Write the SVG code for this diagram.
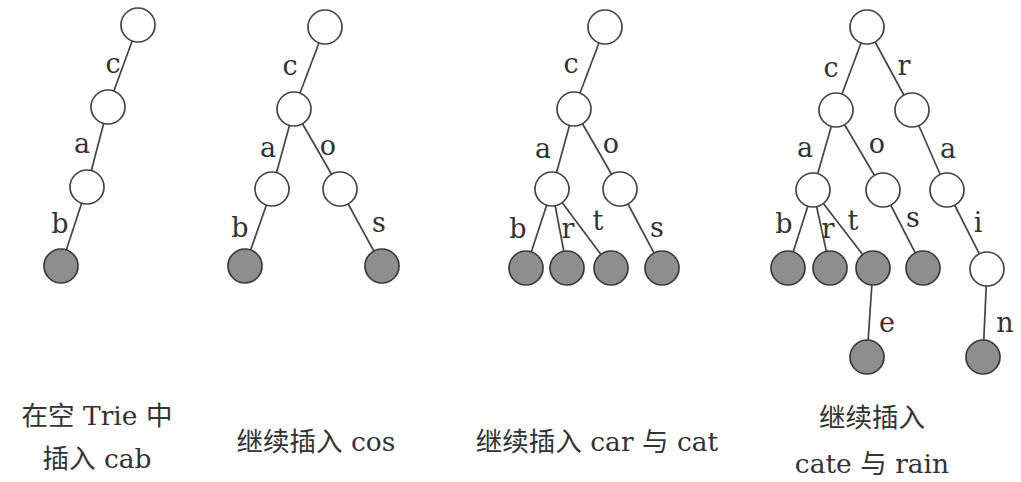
<svg xmlns="http://www.w3.org/2000/svg" width="1021" height="482" viewBox="0 0 1021 482">
<style>
.n{fill:#fff;stroke:#444;stroke-width:1.7}
.l{fill:#8e8e8e;stroke:#3a3a3a;stroke-width:1.7}
.e{stroke:#444;stroke-width:1.7;fill:none}
.t{font-family:"DejaVu Serif","Liberation Serif",serif;font-size:27px;fill:#333;text-anchor:middle}
.cap{font-family:"DejaVu Serif","Noto Sans CJK SC",serif;font-size:26.5px;fill:#333;text-anchor:middle}
</style>
<rect width="1021" height="482" fill="#fff"/>
<g id="connectors">
<line class="e" x1="138" y1="25" x2="108" y2="107"/>
<line class="e" x1="108" y1="107" x2="87" y2="187"/>
<line class="e" x1="87" y1="187" x2="61" y2="266"/>
<line class="e" x1="325" y1="27" x2="294" y2="109"/>
<line class="e" x1="294" y1="109" x2="272" y2="189"/>
<line class="e" x1="294" y1="109" x2="340" y2="189"/>
<line class="e" x1="272" y1="189" x2="245" y2="266"/>
<line class="e" x1="340" y1="189" x2="382" y2="266"/>
<line class="e" x1="605" y1="27" x2="574" y2="109"/>
<line class="e" x1="574" y1="109" x2="552" y2="189"/>
<line class="e" x1="574" y1="109" x2="620" y2="189"/>
<line class="e" x1="552" y1="189" x2="526" y2="268"/>
<line class="e" x1="552" y1="189" x2="567" y2="268"/>
<line class="e" x1="552" y1="189" x2="611" y2="268"/>
<line class="e" x1="620" y1="189" x2="662" y2="268"/>
<line class="e" x1="867" y1="27" x2="836" y2="110"/>
<line class="e" x1="867" y1="27" x2="912" y2="110"/>
<line class="e" x1="836" y1="110" x2="813" y2="190"/>
<line class="e" x1="836" y1="110" x2="883" y2="190"/>
<line class="e" x1="912" y1="110" x2="947" y2="190"/>
<line class="e" x1="813" y1="190" x2="788" y2="268"/>
<line class="e" x1="813" y1="190" x2="830" y2="268"/>
<line class="e" x1="813" y1="190" x2="873" y2="268"/>
<line class="e" x1="883" y1="190" x2="923" y2="268"/>
<line class="e" x1="947" y1="190" x2="987" y2="269"/>
<line class="e" x1="873" y1="268" x2="867" y2="357"/>
<line class="e" x1="987" y1="269" x2="983" y2="357"/>
</g>
<g id="labels">
<text class="t" x="113" y="73">c</text>
<text class="t" x="82" y="153">a</text>
<text class="t" x="60" y="233">b</text>
<text class="t" x="290" y="75">c</text>
<text class="t" x="268" y="157">a</text>
<text class="t" x="328" y="155">o</text>
<text class="t" x="240" y="237">b</text>
<text class="t" x="379" y="232">s</text>
<text class="t" x="571" y="73">c</text>
<text class="t" x="543" y="158">a</text>
<text class="t" x="611" y="153">o</text>
<text class="t" x="518" y="238">b</text>
<text class="t" x="568" y="238">r</text>
<text class="t" x="598" y="230">t</text>
<text class="t" x="657" y="237">s</text>
<text class="t" x="831" y="77">c</text>
<text class="t" x="904" y="75">r</text>
<text class="t" x="805" y="157">a</text>
<text class="t" x="877" y="153">o</text>
<text class="t" x="948" y="158">a</text>
<text class="t" x="784" y="233">b</text>
<text class="t" x="828" y="238">r</text>
<text class="t" x="853" y="230">t</text>
<text class="t" x="913" y="227">s</text>
<text class="t" x="978" y="232">i</text>
<text class="t" x="887" y="332">e</text>
<text class="t" x="1005" y="332">n</text>
</g>
<g id="t1-root"><circle class="n" cx="138" cy="25" r="17"/></g>
<g id="t1-c"><circle class="n" cx="108" cy="107" r="17"/></g>
<g id="t1-ca"><circle class="n" cx="87" cy="187" r="17"/></g>
<g id="t1-cab"><circle class="l" cx="61" cy="266" r="17"/></g>
<g id="t2-root"><circle class="n" cx="325" cy="27" r="17"/></g>
<g id="t2-c"><circle class="n" cx="294" cy="109" r="17"/></g>
<g id="t2-ca"><circle class="n" cx="272" cy="189" r="17"/></g>
<g id="t2-co"><circle class="n" cx="340" cy="189" r="17"/></g>
<g id="t2-cab"><circle class="l" cx="245" cy="266" r="17"/></g>
<g id="t2-cos"><circle class="l" cx="382" cy="266" r="17"/></g>
<g id="t3-root"><circle class="n" cx="605" cy="27" r="17"/></g>
<g id="t3-c"><circle class="n" cx="574" cy="109" r="17"/></g>
<g id="t3-ca"><circle class="n" cx="552" cy="189" r="17"/></g>
<g id="t3-co"><circle class="n" cx="620" cy="189" r="17"/></g>
<g id="t3-cab"><circle class="l" cx="526" cy="268" r="17"/></g>
<g id="t3-car"><circle class="l" cx="567" cy="268" r="17"/></g>
<g id="t3-cat"><circle class="l" cx="611" cy="268" r="17"/></g>
<g id="t3-cos"><circle class="l" cx="662" cy="268" r="17"/></g>
<g id="t4-root"><circle class="n" cx="867" cy="27" r="17"/></g>
<g id="t4-c"><circle class="n" cx="836" cy="110" r="17"/></g>
<g id="t4-r"><circle class="n" cx="912" cy="110" r="17"/></g>
<g id="t4-ca"><circle class="n" cx="813" cy="190" r="17"/></g>
<g id="t4-co"><circle class="n" cx="883" cy="190" r="17"/></g>
<g id="t4-ra"><circle class="n" cx="947" cy="190" r="17"/></g>
<g id="t4-cab"><circle class="l" cx="788" cy="268" r="17"/></g>
<g id="t4-car"><circle class="l" cx="830" cy="268" r="17"/></g>
<g id="t4-cat"><circle class="l" cx="873" cy="268" r="17"/></g>
<g id="t4-cos"><circle class="l" cx="923" cy="268" r="17"/></g>
<g id="t4-rai"><circle class="n" cx="987" cy="269" r="17"/></g>
<g id="t4-cate"><circle class="l" cx="867" cy="357" r="17"/></g>
<g id="t4-rain"><circle class="l" cx="983" cy="357" r="17"/></g>
<g id="captions">
<text class="cap" x="97" y="425">在空 Trie 中</text>
<text class="cap" x="97" y="468">插入 cab</text>
<text class="cap" x="316" y="451">继续插入 cos</text>
<text class="cap" x="597" y="451">继续插入 car 与 cat</text>
<text class="cap" x="872" y="427">继续插入</text>
<text class="cap" x="872" y="473">cate 与 rain</text>
</g>
</svg>
